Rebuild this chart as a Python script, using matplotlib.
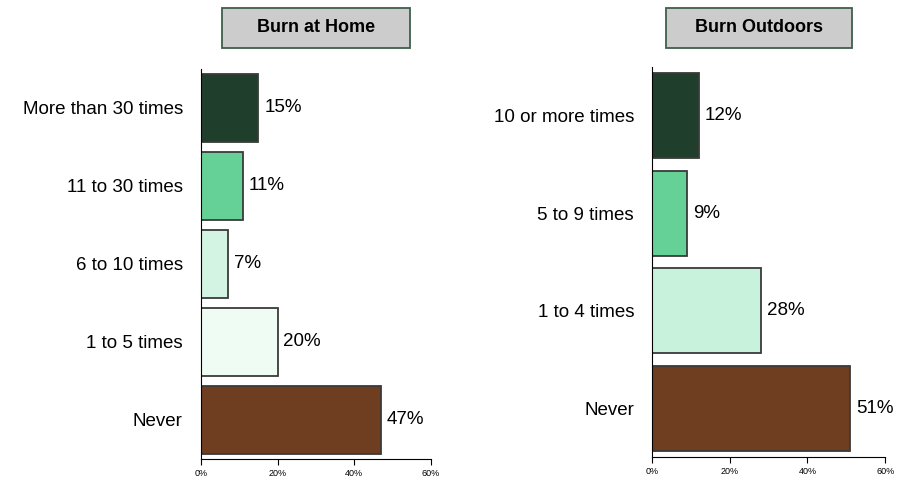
import matplotlib.pyplot as plt
from matplotlib.patches import Rectangle

home_cats = ['More than 30 times', '11 to 30 times', '6 to 10 times', '1 to 5 times', 'Never']
home_vals = [15, 11, 7, 20, 47]
home_cols = ['#1f3f2c', '#66d196', '#d3f4e2', '#effcf4', '#6f3d20']

out_cats = ['10 or more times', '5 to 9 times', '1 to 4 times', 'Never']
out_vals = [12, 9, 28, 51]
out_cols = ['#1f3f2c', '#66d196', '#c9f2dc', '#6f3d20']

xticks = [0, 20, 40, 60]

plt.rcParams['font.family'] = ['Liberation Sans', 'DejaVu Sans']

fig = plt.figure(figsize=(8.97, 4.78), dpi=100)
ax1 = fig.add_axes([0.224, 0.040, 0.2564, 0.816])
ax2 = fig.add_axes([0.727, 0.044, 0.2598, 0.816])


def draw(ax, cats, vals, cols, title, box_x, box_w):
    y = list(range(len(cats)))[::-1]
    ax.barh(y, vals, height=0.87, color=cols, edgecolor='#3a3a3a', linewidth=1.3)
    for yy, v in zip(y, vals):
        ax.text(v + 1.5, yy, f'{v}%', va='center', ha='left', fontsize=13.5)
    ax.set_yticks(y)
    ax.set_yticklabels(cats, fontsize=13.5)
    ax.set_xlim(0, 60)
    ax.set_ylim(-0.5, len(cats) - 0.5)
    ax.set_xticks(xticks)
    ax.set_xticklabels([f'{t}%' for t in xticks], fontsize=6.5)
    for s in ['top', 'right']:
        ax.spines[s].set_visible(False)
    ax.tick_params(axis='y', length=0, pad=13)
    ax.tick_params(axis='x', length=4, direction='out', pad=3)
    # title box
    fig.patches.append(Rectangle((box_x, 0.8996), box_w, 0.0837, transform=fig.transFigure,
                                 facecolor='#cccccc', edgecolor='#3f5e4a', linewidth=1.3))
    fig.text(box_x + box_w / 2, 0.9415, title, ha='center', va='center',
             fontsize=13, fontweight='bold')


draw(ax1, home_cats, home_vals, home_cols, 'Burn at Home', 0.2475, 0.2096)
draw(ax2, out_cats, out_vals, out_cols, 'Burn Outdoors', 0.7425, 0.2073)

fig.savefig('out.png', dpi=100)
